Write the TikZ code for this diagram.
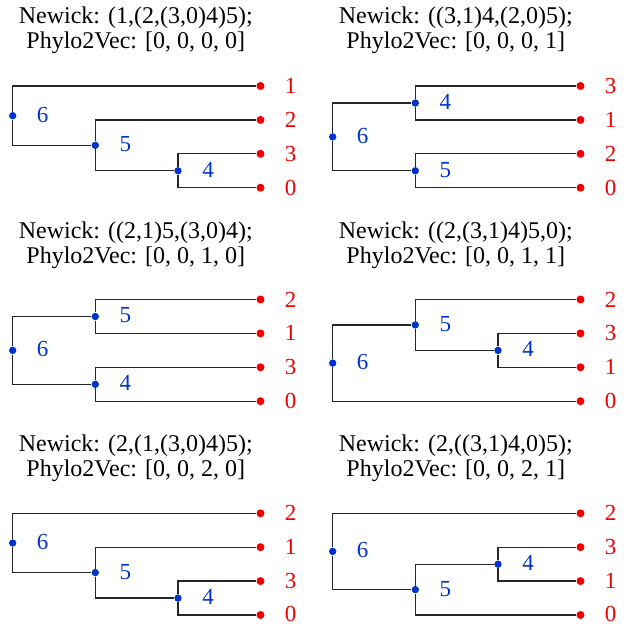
\documentclass[tikz,border=0pt]{standalone}
\usepackage{fontspec}
\setmainfont{Liberation Serif}
\definecolor{nodeblue}{RGB}{0,51,204}
\definecolor{leafred}{RGB}{238,0,0}
\tikzset{
  inner/.style={circle, fill=nodeblue, inner sep=0pt, minimum size=3.7pt},
  leaf/.style={circle, fill=leafred, inner sep=0pt, minimum size=4pt},
  ilab/.style={text=nodeblue, inner sep=0pt, font=\fontsize{11.5}{12}\selectfont},
  llab/.style={text=leafred, inner sep=0pt, font=\fontsize{11.5}{12}\selectfont},
  title/.style={align=center, inner sep=0pt, font=\fontsize{12}{12.5}\selectfont},
  edge/.style={line width=0.65pt, draw=black!85}
}
\begin{document}
\begin{tikzpicture}[x=0.5pt, y=-0.5pt]
\useasboundingbox (0,0) rectangle (630,624);
% (1,(2,(3,0)4)5)
\node[title] (p1t) at (135.8,30.7) {Newick: (1,(2,(3,0)4)5);\\Phylo2Vec: [0, 0, 0, 0]};
\node[inner] (p1n6) at (12.7,115.7){};
\node[inner] (p1n5) at (95.3,145.3){};
\node[inner] (p1n4) at (178,170.8){};
\node[leaf] (p1n1) at (260.5,86){};
\node[leaf] (p1n2) at (260.5,119.9){};
\node[leaf] (p1n3) at (260.5,153.8){};
\node[leaf] (p1n0) at (260.5,187.7){};
\draw[edge] (p1n6) |- (p1n1);
\draw[edge] (p1n6) |- (p1n5);
\draw[edge] (p1n5) |- (p1n2);
\draw[edge] (p1n5) |- (p1n4);
\draw[edge] (p1n4) |- (p1n3);
\draw[edge] (p1n4) |- (p1n0);
\node[ilab] (p1l6) at ([xshift=15pt,yshift=0.5pt]p1n6) {6};
\node[ilab] (p1l5) at ([xshift=15pt,yshift=0.5pt]p1n5) {5};
\node[ilab] (p1l4) at ([xshift=15pt,yshift=0.5pt]p1n4) {4};
\node[llab] (p1l1) at ([xshift=15pt]p1n1) {1};
\node[llab] (p1l2) at ([xshift=15pt]p1n2) {2};
\node[llab] (p1l3) at ([xshift=15pt]p1n3) {3};
\node[llab] (p1l0) at ([xshift=15pt]p1n0) {0};
% ((3,1)4,(2,0)5)
\node[title] (p2t) at (455.8,30.7) {Newick: ((3,1)4,(2,0)5);\\Phylo2Vec: [0, 0, 0, 1]};
\node[inner] (p2n6) at (332.7,136.9){};
\node[inner] (p2n4) at (415.3,103){};
\node[inner] (p2n5) at (415.3,170.8){};
\node[leaf] (p2n3) at (580.5,86){};
\node[leaf] (p2n1) at (580.5,119.9){};
\node[leaf] (p2n2) at (580.5,153.8){};
\node[leaf] (p2n0) at (580.5,187.7){};
\draw[edge] (p2n6) |- (p2n4);
\draw[edge] (p2n6) |- (p2n5);
\draw[edge] (p2n4) |- (p2n3);
\draw[edge] (p2n4) |- (p2n1);
\draw[edge] (p2n5) |- (p2n2);
\draw[edge] (p2n5) |- (p2n0);
\node[ilab] (p2l6) at ([xshift=15pt,yshift=0.5pt]p2n6) {6};
\node[ilab] (p2l4) at ([xshift=15pt,yshift=0.5pt]p2n4) {4};
\node[ilab] (p2l5) at ([xshift=15pt,yshift=0.5pt]p2n5) {5};
\node[llab] (p2l3) at ([xshift=15pt]p2n3) {3};
\node[llab] (p2l1) at ([xshift=15pt]p2n1) {1};
\node[llab] (p2l2) at ([xshift=15pt]p2n2) {2};
\node[llab] (p2l0) at ([xshift=15pt]p2n0) {0};
% ((2,1)5,(3,0)4)
\node[title] (p3t) at (135.8,245) {Newick: ((2,1)5,(3,0)4);\\Phylo2Vec: [0, 0, 1, 0]};
\node[inner] (p3n6) at (12.7,350.4){};
\node[inner] (p3n5) at (95.3,316.5){};
\node[inner] (p3n4) at (95.3,384.3){};
\node[leaf] (p3n2) at (260.5,299.5){};
\node[leaf] (p3n1) at (260.5,333.4){};
\node[leaf] (p3n3) at (260.5,367.3){};
\node[leaf] (p3n0) at (260.5,401.2){};
\draw[edge] (p3n6) |- (p3n5);
\draw[edge] (p3n6) |- (p3n4);
\draw[edge] (p3n5) |- (p3n2);
\draw[edge] (p3n5) |- (p3n1);
\draw[edge] (p3n4) |- (p3n3);
\draw[edge] (p3n4) |- (p3n0);
\node[ilab] (p3l6) at ([xshift=15pt,yshift=0.5pt]p3n6) {6};
\node[ilab] (p3l5) at ([xshift=15pt,yshift=0.5pt]p3n5) {5};
\node[ilab] (p3l4) at ([xshift=15pt,yshift=0.5pt]p3n4) {4};
\node[llab] (p3l2) at ([xshift=15pt]p3n2) {2};
\node[llab] (p3l1) at ([xshift=15pt]p3n1) {1};
\node[llab] (p3l3) at ([xshift=15pt]p3n3) {3};
\node[llab] (p3l0) at ([xshift=15pt]p3n0) {0};
% ((2,(3,1)4)5,0)
\node[title] (p4t) at (455.8,245) {Newick: ((2,(3,1)4)5,0);\\Phylo2Vec: [0, 0, 1, 1]};
\node[inner] (p4n6) at (332.7,363.1){};
\node[inner] (p4n5) at (415.3,324.9){};
\node[inner] (p4n4) at (498,350.4){};
\node[leaf] (p4n2) at (580.5,299.5){};
\node[leaf] (p4n3) at (580.5,333.4){};
\node[leaf] (p4n1) at (580.5,367.3){};
\node[leaf] (p4n0) at (580.5,401.2){};
\draw[edge] (p4n6) |- (p4n5);
\draw[edge] (p4n6) |- (p4n0);
\draw[edge] (p4n5) |- (p4n2);
\draw[edge] (p4n5) |- (p4n4);
\draw[edge] (p4n4) |- (p4n3);
\draw[edge] (p4n4) |- (p4n1);
\node[ilab] (p4l6) at ([xshift=15pt,yshift=0.5pt]p4n6) {6};
\node[ilab] (p4l5) at ([xshift=15pt,yshift=0.5pt]p4n5) {5};
\node[ilab] (p4l4) at ([xshift=15pt,yshift=0.5pt]p4n4) {4};
\node[llab] (p4l2) at ([xshift=15pt]p4n2) {2};
\node[llab] (p4l3) at ([xshift=15pt]p4n3) {3};
\node[llab] (p4l1) at ([xshift=15pt]p4n1) {1};
\node[llab] (p4l0) at ([xshift=15pt]p4n0) {0};
% (2,(1,(3,0)4)5)
\node[title] (p5t) at (135.8,458) {Newick: (2,(1,(3,0)4)5);\\Phylo2Vec: [0, 0, 2, 0]};
\node[inner] (p5n6) at (12.7,543){};
\node[inner] (p5n5) at (95.3,572.6){};
\node[inner] (p5n4) at (178,598.1){};
\node[leaf] (p5n2) at (260.5,513.3){};
\node[leaf] (p5n1) at (260.5,547.2){};
\node[leaf] (p5n3) at (260.5,581.1){};
\node[leaf] (p5n0) at (260.5,615){};
\draw[edge] (p5n6) |- (p5n2);
\draw[edge] (p5n6) |- (p5n5);
\draw[edge] (p5n5) |- (p5n1);
\draw[edge] (p5n5) |- (p5n4);
\draw[edge] (p5n4) |- (p5n3);
\draw[edge] (p5n4) |- (p5n0);
\node[ilab] (p5l6) at ([xshift=15pt,yshift=0.5pt]p5n6) {6};
\node[ilab] (p5l5) at ([xshift=15pt,yshift=0.5pt]p5n5) {5};
\node[ilab] (p5l4) at ([xshift=15pt,yshift=0.5pt]p5n4) {4};
\node[llab] (p5l2) at ([xshift=15pt]p5n2) {2};
\node[llab] (p5l1) at ([xshift=15pt]p5n1) {1};
\node[llab] (p5l3) at ([xshift=15pt]p5n3) {3};
\node[llab] (p5l0) at ([xshift=15pt,yshift=0.5pt]p5n0) {0};
% (2,((3,1)4,0)5)
\node[title] (p6t) at (455.8,458) {Newick: (2,((3,1)4,0)5);\\Phylo2Vec: [0, 0, 2, 1]};
\node[inner] (p6n6) at (332.7,551.4){};
\node[inner] (p6n5) at (415.3,589.6){};
\node[inner] (p6n4) at (498,564.2){};
\node[leaf] (p6n2) at (580.5,513.3){};
\node[leaf] (p6n3) at (580.5,547.2){};
\node[leaf] (p6n1) at (580.5,581.1){};
\node[leaf] (p6n0) at (580.5,615){};
\draw[edge] (p6n6) |- (p6n2);
\draw[edge] (p6n6) |- (p6n5);
\draw[edge] (p6n5) |- (p6n4);
\draw[edge] (p6n5) |- (p6n0);
\draw[edge] (p6n4) |- (p6n3);
\draw[edge] (p6n4) |- (p6n1);
\node[ilab] (p6l6) at ([xshift=15pt,yshift=0.5pt]p6n6) {6};
\node[ilab] (p6l5) at ([xshift=15pt,yshift=0.5pt]p6n5) {5};
\node[ilab] (p6l4) at ([xshift=15pt,yshift=0.5pt]p6n4) {4};
\node[llab] (p6l2) at ([xshift=15pt]p6n2) {2};
\node[llab] (p6l3) at ([xshift=15pt]p6n3) {3};
\node[llab] (p6l1) at ([xshift=15pt]p6n1) {1};
\node[llab] (p6l0) at ([xshift=15pt,yshift=0.5pt]p6n0) {0};
\end{tikzpicture}
\end{document}
